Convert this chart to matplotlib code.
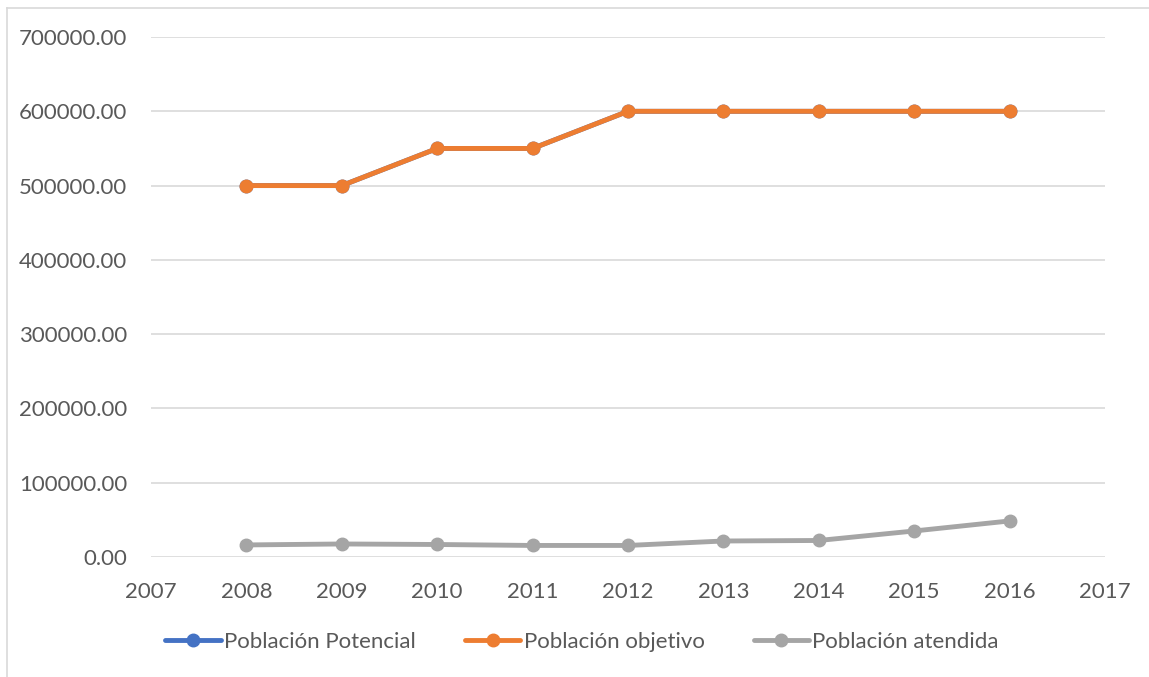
import matplotlib
matplotlib.use("Agg")
import matplotlib.pyplot as plt
from matplotlib.lines import Line2D
from matplotlib.ticker import FuncFormatter, MultipleLocator

years = [2008, 2009, 2010, 2011, 2012, 2013, 2014, 2015, 2016]
potencial = [500000, 500000, 550000, 550000, 600000, 600000, 600000, 600000, 600000]
objetivo = [500000, 500000, 550000, 550000, 600000, 600000, 600000, 600000, 600000]
atendida = [16200, 17500, 16800, 15500, 15500, 21500, 22200, 35000, 48500]

series_names = ["Población Potencial", "Población objetivo", "Población atendida"]
colors = ["#4472C4", "#ED7D31", "#A5A5A5"]

plt.rcParams["font.family"] = ["Lato", "DejaVu Sans"]

fig = plt.figure(figsize=(11.49, 6.77), dpi=100)
ax = fig.add_axes([0.1314, 0.1773, 0.8303, 0.768])

for values, name, color in zip([potencial, objetivo, atendida], series_names, colors):
    ax.plot(years, values, color=color, linewidth=3.5, marker="o",
            markersize=9, label=name, solid_capstyle="round")

ax.set_xlim(2007, 2017)
ax.set_ylim(0, 700000)
ax.xaxis.set_major_locator(MultipleLocator(1))
ax.yaxis.set_major_locator(MultipleLocator(100000))
ax.yaxis.set_major_formatter(FuncFormatter(lambda v, p: f"{v:.2f}"))
ax.grid(axis="y", color="#D9D9D9", linewidth=1.2)
ax.set_axisbelow(True)
for side in ax.spines:
    ax.spines[side].set_visible(False)
ax.tick_params(length=0, labelsize=16, colors="#595959")
ax.tick_params(axis="x", pad=18)
ax.tick_params(axis="y", pad=17)

leg = ax.legend(loc="center", bbox_to_anchor=(0.452, -0.163), ncol=3,
                frameon=False, fontsize=16, handlelength=2.5, columnspacing=2.2,
                handletextpad=0.15, borderaxespad=0, borderpad=0)
for text in leg.get_texts():
    text.set_color("#595959")

# border on the top and left edges of the chart area
fig.add_artist(Line2D([7 / 1149, 1], [1 - 8 / 677, 1 - 8 / 677],
                      transform=fig.transFigure, color="#D9D9D9", linewidth=1.2))
fig.add_artist(Line2D([7 / 1149, 7 / 1149], [0, 1 - 8 / 677],
                      transform=fig.transFigure, color="#D9D9D9", linewidth=1.2))

fig.savefig("out.png", dpi=100, facecolor="white")
